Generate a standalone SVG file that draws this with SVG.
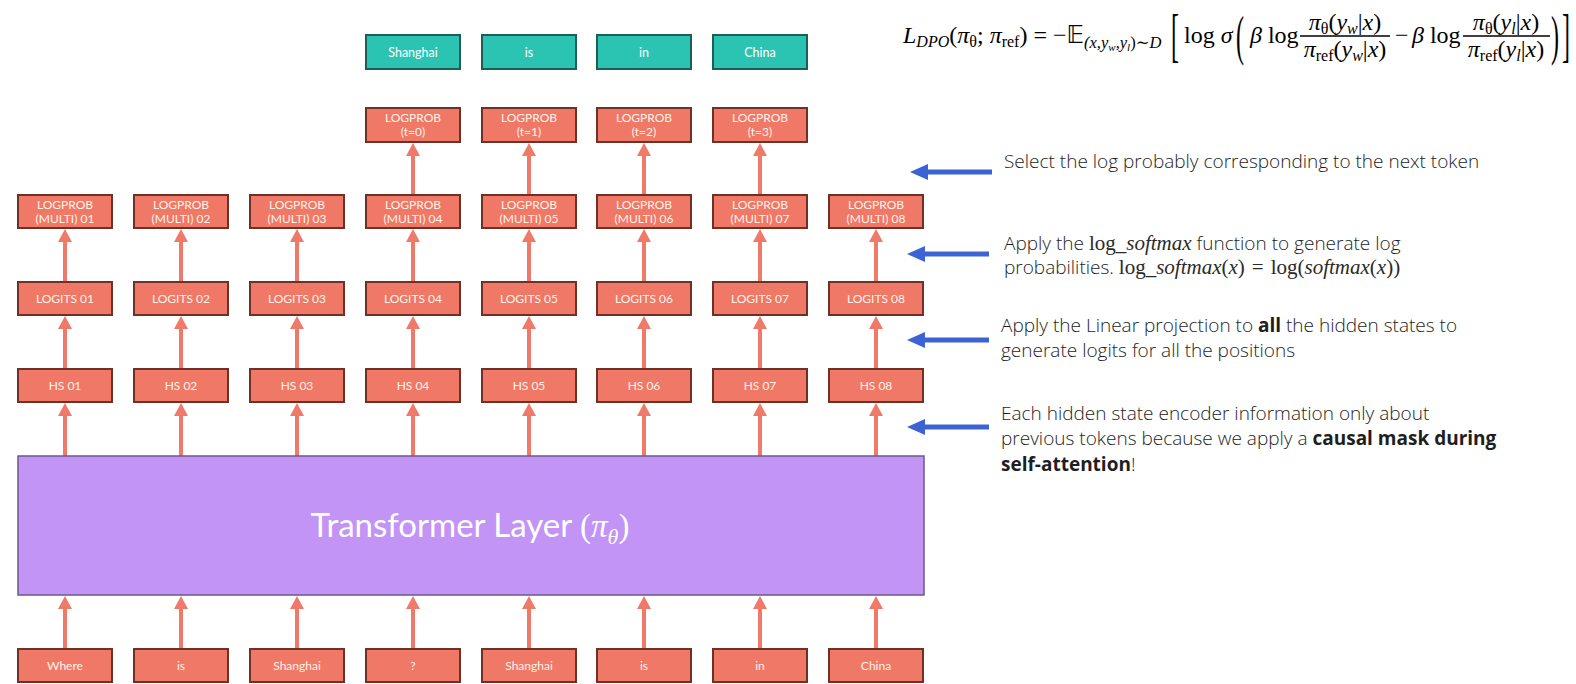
<svg xmlns="http://www.w3.org/2000/svg" width="1576" height="684" viewBox="0 0 1576 684">
<defs>
<marker id="ah" markerUnits="userSpaceOnUse" markerWidth="14" markerHeight="14" viewBox="0 0 14 14" refX="1" refY="7" orient="auto"><path d="M0,0 L13,7 L0,14 z" fill="#F07A6A"/></marker>
<marker id="bh" markerUnits="userSpaceOnUse" markerWidth="19" markerHeight="16" viewBox="0 0 19 16" refX="1" refY="8" orient="auto"><path d="M0,0 L18,8 L0,16 z" fill="#3B63D6"/></marker>
</defs>
<style>
.box{fill:#EF7866;stroke:#6F3126;stroke-width:2}
.teal{fill:#2BC4B3;stroke:#1D5E55;stroke-width:2}
.bt{font-family:Lato,"Open Sans","DejaVu Sans",sans-serif;font-size:12px;fill:#FFF4EA;text-anchor:middle}
.tt{font-family:Lato,"Open Sans","DejaVu Sans",sans-serif;font-size:12.5px;fill:#FFFFFF;text-anchor:middle}
.ar{stroke:#F07A6A;stroke-width:4;fill:none;marker-end:url(#ah)}
.ba{stroke:#3B63D6;stroke-width:5;fill:none;marker-end:url(#bh)}
.rt{font-family:"Open Sans",Lato,"DejaVu Sans",sans-serif;font-size:19px;font-weight:300;fill:#1E1E1E}
.m{font-family:"Liberation Serif","DejaVu Serif",serif;font-size:21px;font-weight:normal;fill:#2A2A2A}
.fm{font-family:"Liberation Serif","DejaVu Serif",serif;font-size:24px;fill:#000}
.i{font-style:italic}
</style>
<rect width="1576" height="684" fill="#FFFFFF"/>

<g id="connectors">
<path class="ar" d="M65,649 V608"/><path class="ar" d="M181,649 V608"/><path class="ar" d="M297,649 V608"/><path class="ar" d="M413,649 V608"/>
<path class="ar" d="M529,649 V608"/><path class="ar" d="M644,649 V608"/><path class="ar" d="M760,649 V608"/><path class="ar" d="M876,649 V608"/>
<path class="ar" d="M65,456 V415"/><path class="ar" d="M181,456 V415"/><path class="ar" d="M297,456 V415"/><path class="ar" d="M413,456 V415"/>
<path class="ar" d="M529,456 V415"/><path class="ar" d="M644,456 V415"/><path class="ar" d="M760,456 V415"/><path class="ar" d="M876,456 V415"/>
<path class="ar" d="M65,369 V328"/><path class="ar" d="M181,369 V328"/><path class="ar" d="M297,369 V328"/><path class="ar" d="M413,369 V328"/>
<path class="ar" d="M529,369 V328"/><path class="ar" d="M644,369 V328"/><path class="ar" d="M760,369 V328"/><path class="ar" d="M876,369 V328"/>
<path class="ar" d="M65,282 V241"/><path class="ar" d="M181,282 V241"/><path class="ar" d="M297,282 V241"/><path class="ar" d="M413,282 V241"/>
<path class="ar" d="M529,282 V241"/><path class="ar" d="M644,282 V241"/><path class="ar" d="M760,282 V241"/><path class="ar" d="M876,282 V241"/>
<path class="ar" d="M413,195 V155"/><path class="ar" d="M529,195 V155"/><path class="ar" d="M644,195 V155"/><path class="ar" d="M760,195 V155"/>
<path class="ba" d="M992,172 H927"/>
<path class="ba" d="M989,254 H924"/>
<path class="ba" d="M989,340 H924"/>
<path class="ba" d="M989,427 H924"/>
</g>

<g id="transformer">
<rect x="18" y="456" width="906" height="139" fill="#C194F6" stroke="#6B5A8A" stroke-width="1.5"/>
<text x="470" y="537" text-anchor="middle" font-family="Lato,'Open Sans','DejaVu Sans',sans-serif" font-size="33" fill="#FFFFFF">Transformer Layer <tspan font-family="Liberation Serif,DejaVu Serif,serif">(</tspan><tspan font-family="Liberation Serif,DejaVu Serif,serif" font-style="italic">π</tspan><tspan font-family="Liberation Serif,DejaVu Serif,serif" font-style="italic" font-size="22" dy="7">θ</tspan><tspan font-family="Liberation Serif,DejaVu Serif,serif" dy="-7">)</tspan></text>
</g>

<g id="tokens">
<g id="tok1"><rect class="box" x="18" y="649" width="94" height="33"/><text class="bt" x="65" y="670">Where</text></g>
<g id="tok2"><rect class="box" x="134" y="649" width="94" height="33"/><text class="bt" x="181" y="670">is</text></g>
<g id="tok3"><rect class="box" x="250" y="649" width="94" height="33"/><text class="bt" x="297" y="670">Shanghai</text></g>
<g id="tok4"><rect class="box" x="366" y="649" width="94" height="33"/><text class="bt" x="413" y="670">?</text></g>
<g id="tok5"><rect class="box" x="482" y="649" width="94" height="33"/><text class="bt" x="529" y="670">Shanghai</text></g>
<g id="tok6"><rect class="box" x="597" y="649" width="94" height="33"/><text class="bt" x="644" y="670">is</text></g>
<g id="tok7"><rect class="box" x="713" y="649" width="94" height="33"/><text class="bt" x="760" y="670">in</text></g>
<g id="tok8"><rect class="box" x="829" y="649" width="94" height="33"/><text class="bt" x="876" y="670">China</text></g>
</g>

<g id="hidden-states">
<g id="hs1"><rect class="box" x="18" y="369" width="94" height="33"/><text class="bt" x="65" y="390">HS 01</text></g>
<g id="hs2"><rect class="box" x="134" y="369" width="94" height="33"/><text class="bt" x="181" y="390">HS 02</text></g>
<g id="hs3"><rect class="box" x="250" y="369" width="94" height="33"/><text class="bt" x="297" y="390">HS 03</text></g>
<g id="hs4"><rect class="box" x="366" y="369" width="94" height="33"/><text class="bt" x="413" y="390">HS 04</text></g>
<g id="hs5"><rect class="box" x="482" y="369" width="94" height="33"/><text class="bt" x="529" y="390">HS 05</text></g>
<g id="hs6"><rect class="box" x="597" y="369" width="94" height="33"/><text class="bt" x="644" y="390">HS 06</text></g>
<g id="hs7"><rect class="box" x="713" y="369" width="94" height="33"/><text class="bt" x="760" y="390">HS 07</text></g>
<g id="hs8"><rect class="box" x="829" y="369" width="94" height="33"/><text class="bt" x="876" y="390">HS 08</text></g>
</g>

<g id="logits">
<g id="lg1"><rect class="box" x="18" y="282" width="94" height="33"/><text class="bt" x="65" y="303">LOGITS 01</text></g>
<g id="lg2"><rect class="box" x="134" y="282" width="94" height="33"/><text class="bt" x="181" y="303">LOGITS 02</text></g>
<g id="lg3"><rect class="box" x="250" y="282" width="94" height="33"/><text class="bt" x="297" y="303">LOGITS 03</text></g>
<g id="lg4"><rect class="box" x="366" y="282" width="94" height="33"/><text class="bt" x="413" y="303">LOGITS 04</text></g>
<g id="lg5"><rect class="box" x="482" y="282" width="94" height="33"/><text class="bt" x="529" y="303">LOGITS 05</text></g>
<g id="lg6"><rect class="box" x="597" y="282" width="94" height="33"/><text class="bt" x="644" y="303">LOGITS 06</text></g>
<g id="lg7"><rect class="box" x="713" y="282" width="94" height="33"/><text class="bt" x="760" y="303">LOGITS 07</text></g>
<g id="lg8"><rect class="box" x="829" y="282" width="94" height="33"/><text class="bt" x="876" y="303">LOGITS 08</text></g>
</g>

<g id="logprob-multi">
<g id="lm1"><rect class="box" x="18" y="195" width="94" height="33"/><text class="bt" x="65" y="209">LOGPROB</text><text class="bt" x="65" y="222.5">(MULTI) 01</text></g>
<g id="lm2"><rect class="box" x="134" y="195" width="94" height="33"/><text class="bt" x="181" y="209">LOGPROB</text><text class="bt" x="181" y="222.5">(MULTI) 02</text></g>
<g id="lm3"><rect class="box" x="250" y="195" width="94" height="33"/><text class="bt" x="297" y="209">LOGPROB</text><text class="bt" x="297" y="222.5">(MULTI) 03</text></g>
<g id="lm4"><rect class="box" x="366" y="195" width="94" height="33"/><text class="bt" x="413" y="209">LOGPROB</text><text class="bt" x="413" y="222.5">(MULTI) 04</text></g>
<g id="lm5"><rect class="box" x="482" y="195" width="94" height="33"/><text class="bt" x="529" y="209">LOGPROB</text><text class="bt" x="529" y="222.5">(MULTI) 05</text></g>
<g id="lm6"><rect class="box" x="597" y="195" width="94" height="33"/><text class="bt" x="644" y="209">LOGPROB</text><text class="bt" x="644" y="222.5">(MULTI) 06</text></g>
<g id="lm7"><rect class="box" x="713" y="195" width="94" height="33"/><text class="bt" x="760" y="209">LOGPROB</text><text class="bt" x="760" y="222.5">(MULTI) 07</text></g>
<g id="lm8"><rect class="box" x="829" y="195" width="94" height="33"/><text class="bt" x="876" y="209">LOGPROB</text><text class="bt" x="876" y="222.5">(MULTI) 08</text></g>
</g>

<g id="logprob-t">
<g id="lt0"><rect class="box" x="366" y="108" width="94" height="34"/><text class="bt" x="413" y="122">LOGPROB</text><text class="bt" x="413" y="136">(t=0)</text></g>
<g id="lt1"><rect class="box" x="482" y="108" width="94" height="34"/><text class="bt" x="529" y="122">LOGPROB</text><text class="bt" x="529" y="136">(t=1)</text></g>
<g id="lt2"><rect class="box" x="597" y="108" width="94" height="34"/><text class="bt" x="644" y="122">LOGPROB</text><text class="bt" x="644" y="136">(t=2)</text></g>
<g id="lt3"><rect class="box" x="713" y="108" width="94" height="34"/><text class="bt" x="760" y="122">LOGPROB</text><text class="bt" x="760" y="136">(t=3)</text></g>
</g>

<g id="targets">
<g id="tg1"><rect class="teal" x="366" y="35" width="94" height="34"/><text class="tt" x="413" y="56.5">Shanghai</text></g>
<g id="tg2"><rect class="teal" x="482" y="35" width="94" height="34"/><text class="tt" x="529" y="56.5">is</text></g>
<g id="tg3"><rect class="teal" x="597" y="35" width="94" height="34"/><text class="tt" x="644" y="56.5">in</text></g>
<g id="tg4"><rect class="teal" x="713" y="35" width="94" height="34"/><text class="tt" x="760" y="56.5">China</text></g>
</g>

<g id="annotations">
<text class="rt" x="1004" y="168">Select the log probably corresponding to the next token</text>
<text class="rt" x="1004" y="250">Apply the <tspan class="m">log_</tspan><tspan class="m i">softmax</tspan> function to generate log</text>
<text class="rt" x="1004" y="274">probabilities. <tspan class="m">log_</tspan><tspan class="m i">softmax</tspan><tspan class="m">(</tspan><tspan class="m i">x</tspan><tspan class="m">)</tspan><tspan class="m" dx="7">=</tspan><tspan class="m" dx="7">log(</tspan><tspan class="m i">softmax</tspan><tspan class="m">(</tspan><tspan class="m i">x</tspan><tspan class="m">))</tspan></text>
<text class="rt" x="1001" y="332">Apply the Linear projection to <tspan font-weight="bold">all</tspan> the hidden states to</text>
<text class="rt" x="1001" y="357">generate logits for all the positions</text>
<text class="rt" x="1001" y="420">Each hidden state encoder information only about</text>
<text class="rt" x="1001" y="445">previous tokens because we apply a <tspan font-weight="bold">causal mask during</tspan></text>
<text class="rt" x="1001" y="471"><tspan font-weight="bold">self-attention</tspan>!</text>
</g>

<g id="formula" class="fm">
<text x="903" y="43"><tspan class="i">L</tspan><tspan class="i" font-size="16" dy="4">DPO</tspan><tspan dy="-4">(</tspan><tspan class="i">π</tspan><tspan font-size="16" dy="4">θ</tspan><tspan dy="-4">; </tspan><tspan class="i">π</tspan><tspan font-size="16" dy="4">ref</tspan><tspan dy="-4">)</tspan><tspan dx="6">=</tspan><tspan dx="6">−</tspan><tspan font-family="DejaVu Sans,sans-serif">𝔼</tspan><tspan class="i" font-size="16.5" dy="5">(x,y</tspan><tspan class="i" font-size="11" dy="3">w</tspan><tspan class="i" font-size="16.5" dy="-3">,y</tspan><tspan class="i" font-size="11" dy="3">l</tspan><tspan font-size="16.5" dy="-3">)∼</tspan><tspan class="i" font-size="16.5">D</tspan></text>
<text transform="matrix(1,0,0,2.5,1171,55)">[</text>
<text x="1184" y="43">log <tspan class="i">σ</tspan></text>
<text transform="matrix(1,0,0,2.3,1236,54)">(</text>
<text x="1250" y="43"><tspan class="i">β</tspan> log</text>
<line x1="1300" y1="36" x2="1390" y2="36" stroke="#000" stroke-width="1.3"/>
<text x="1345" y="30" text-anchor="middle"><tspan class="i">π</tspan><tspan font-size="16" dy="4">θ</tspan><tspan dy="-4">(</tspan><tspan class="i">y</tspan><tspan class="i" font-size="16" dy="4">w</tspan><tspan dy="-4">|</tspan><tspan class="i">x</tspan><tspan>)</tspan></text>
<text x="1345" y="57" text-anchor="middle"><tspan class="i">π</tspan><tspan font-size="16" dy="4">ref</tspan><tspan dy="-4">(</tspan><tspan class="i">y</tspan><tspan class="i" font-size="16" dy="4">w</tspan><tspan dy="-4">|</tspan><tspan class="i">x</tspan><tspan>)</tspan></text>
<text x="1395" y="43">−</text>
<text x="1412" y="43"><tspan class="i">β</tspan> log</text>
<line x1="1463" y1="36" x2="1550" y2="36" stroke="#000" stroke-width="1.3"/>
<text x="1506" y="30" text-anchor="middle"><tspan class="i">π</tspan><tspan font-size="16" dy="4">θ</tspan><tspan dy="-4">(</tspan><tspan class="i">y</tspan><tspan class="i" font-size="16" dy="4">l</tspan><tspan dy="-4">|</tspan><tspan class="i">x</tspan><tspan>)</tspan></text>
<text x="1506" y="57" text-anchor="middle"><tspan class="i">π</tspan><tspan font-size="16" dy="4">ref</tspan><tspan dy="-4">(</tspan><tspan class="i">y</tspan><tspan class="i" font-size="16" dy="4">l</tspan><tspan dy="-4">|</tspan><tspan class="i">x</tspan><tspan>)</tspan></text>
<text transform="matrix(1,0,0,2.3,1551,54)">)</text>
<text transform="matrix(1,0,0,2.5,1562,55)">]</text>
</g>
</svg>
